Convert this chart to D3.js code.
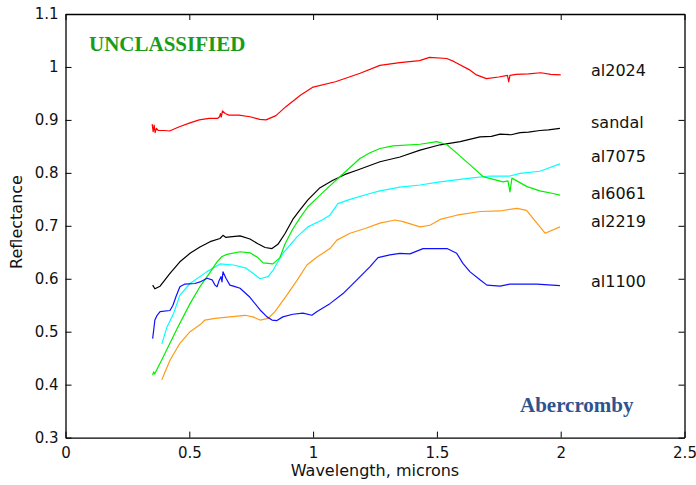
<!DOCTYPE html>
<html>
<head>
<meta charset="utf-8">
<script src="https://cdn.jsdelivr.net/npm/d3@7"></script>
<style>
  body { margin: 0; background: #fff; }
  svg { display: block; font-family: "DejaVu Sans", sans-serif; }
</style>
</head>
<body>
<div id="grafico"></div>
<script>
// dados: [comprimento de onda (microns), reflectância]
const al2024 = [[0.35,0.892],[0.354,0.878],[0.358,0.89],[0.362,0.876],[0.367,0.884],[0.375,0.88],[0.40,0.880],[0.42,0.879],[0.46,0.887],
  [0.50,0.894],[0.54,0.900],[0.58,0.903],[0.615,0.903],[0.622,0.906],[0.626,0.912],[0.629,0.905],[0.634,0.917],[0.645,0.912],[0.66,0.909],
  [0.70,0.909],[0.745,0.906],[0.785,0.901],[0.81,0.900],[0.85,0.908],[0.89,0.925],[0.95,0.947],[1.0,0.962],[1.09,0.972],[1.19,0.988],
  [1.27,1.003],[1.35,1.008],[1.43,1.012],[1.47,1.018],[1.54,1.016],[1.57,1.010],[1.63,0.995],[1.66,0.985],[1.70,0.978],[1.75,0.981],
  [1.785,0.984],[1.79,0.972],[1.795,0.984],[1.82,0.986],[1.87,0.987],[1.92,0.989],[1.96,0.986],[2.0,0.985]];

const sandal = [[0.352,0.588],[0.361,0.581],[0.382,0.586],[0.422,0.61],[0.462,0.632],[0.503,0.648],[0.543,0.66],[0.584,0.67],
  [0.624,0.676],[0.636,0.682],[0.648,0.678],[0.664,0.679],[0.705,0.681],[0.745,0.675],[0.777,0.666],[0.806,0.659],[0.834,0.657],
  [0.858,0.665],[0.886,0.685],[0.918,0.712],[0.947,0.73],[0.979,0.749],[1.028,0.772],[1.08,0.786],[1.129,0.797],[1.177,0.805],
  [1.27,0.821],[1.351,0.83],[1.432,0.843],[1.513,0.853],[1.594,0.859],[1.674,0.868],[1.72,0.869],[1.755,0.873],[1.80,0.872],
  [1.836,0.876],[1.87,0.877],[1.916,0.88],[1.95,0.881],[1.997,0.884]];

const al7075 = [[0.389,0.477],[0.41,0.509],[0.437,0.535],[0.462,0.569],[0.503,0.591],[0.57,0.613],[0.624,0.628],[0.678,0.626],
  [0.73,0.62],[0.786,0.6],[0.818,0.604],[0.838,0.616],[0.878,0.648],[0.935,0.679],[0.979,0.698],[1.036,0.711],[1.068,0.72],
  [1.1,0.742],[1.149,0.75],[1.23,0.761],[1.27,0.766],[1.351,0.773],[1.432,0.777],[1.513,0.783],[1.634,0.79],[1.714,0.794],
  [1.795,0.794],[1.836,0.799],[1.916,0.803],[1.997,0.817]];

const al6061 = [[0.352,0.418],[0.356,0.424],[0.36,0.42],[0.392,0.45],[0.45,0.505],[0.503,0.553],[0.543,0.585],[0.584,0.612],
  [0.612,0.632],[0.632,0.642],[0.652,0.646],[0.705,0.651],[0.745,0.649],[0.777,0.64],[0.798,0.63],[0.838,0.628],[0.866,0.64],
  [0.886,0.665],[0.918,0.694],[0.947,0.715],[0.979,0.736],[1.008,0.749],[1.06,0.772],[1.109,0.793],[1.137,0.805],[1.189,0.827],
  [1.23,0.838],[1.27,0.846],[1.323,0.851],[1.432,0.854],[1.5,0.859],[1.541,0.853],[1.573,0.84],[1.634,0.815],[1.686,0.793],
  [1.767,0.783],[1.787,0.785],[1.795,0.764],[1.803,0.79],[1.864,0.774],[1.916,0.766],[1.969,0.761],[1.997,0.758]];

const al2219 = [[0.389,0.409],[0.402,0.424],[0.422,0.446],[0.442,0.462],[0.462,0.478],[0.503,0.50],[0.543,0.513],[0.563,0.522],
  [0.604,0.525],[0.664,0.528],[0.725,0.531],[0.757,0.528],[0.786,0.522],[0.818,0.525],[0.846,0.538],[0.894,0.569],[0.935,0.597],
  [0.975,0.626],[1.016,0.641],[1.068,0.657],[1.096,0.673],[1.149,0.686],[1.21,0.695],[1.27,0.705],[1.331,0.711],[1.363,0.708],
  [1.432,0.698],[1.472,0.701],[1.513,0.712],[1.58,0.72],[1.674,0.727],[1.755,0.728],[1.823,0.733],[1.862,0.729],[1.937,0.686],
  [1.997,0.698]];

const al1100 = [[0.352,0.487],[0.361,0.522],[0.37,0.531],[0.382,0.538],[0.422,0.54],[0.434,0.55],[0.446,0.566],[0.462,0.585],
  [0.482,0.59],[0.523,0.591],[0.543,0.594],[0.572,0.601],[0.592,0.598],[0.604,0.588],[0.612,0.585],[0.62,0.596],[0.628,0.604],
  [0.632,0.594],[0.636,0.613],[0.648,0.601],[0.664,0.588],[0.685,0.585],[0.705,0.582],[0.745,0.565],[0.786,0.541],[0.814,0.528],
  [0.834,0.522],[0.854,0.521],[0.878,0.528],[0.918,0.533],[0.959,0.535],[0.995,0.531],[1.016,0.538],[1.068,0.553],[1.121,0.572],
  [1.177,0.598],[1.23,0.623],[1.262,0.64],[1.31,0.645],[1.351,0.648],[1.391,0.647],[1.444,0.657],[1.541,0.657],[1.58,0.648],
  [1.605,0.629],[1.634,0.613],[1.674,0.598],[1.702,0.588],[1.755,0.586],[1.795,0.59],[1.904,0.59],[1.997,0.587]];

const nomes = ["al2024", "sandal", "al7075", "al6061", "al2219", "al1100"];
const cores = ["#ff0000", "#000000", "#00ffff", "#00ee00", "#ff9a1a", "#1010ff"];
const series = [al2024, sandal, al7075, al6061, al2219, al1100];
const ticks_x = [0, 0.5, 1, 1.5, 2, 2.5];
const ticks_y = [0.3, 0.4, 0.5, 0.6, 0.7, 0.8, 0.9, 1.0, 1.1];

// MEDIDAS
const largura = 696, altura = 485;
const margem = {superior: 14, inferior: 47.4, direita: 11.5, esquerda: 65.5};

const escala_x = d3.scaleLinear([0, 2.5], [margem.esquerda, largura - margem.direita]);
const escala_y = d3.scaleLinear([0.3, 1.1], [altura - margem.inferior, margem.superior]);
const fmt = d => String(+d.toFixed(2));

const svg = d3.select("#grafico").append("svg")
    .attr("width", largura)
    .attr("height", altura)
    .attr("viewBox", [0, 0, largura, altura]);

// rótulo de cada linha fica à direita, y de base
const base_rotulo = [75.5, 128.3, 162, 199, 227, 286.7];

// LINHAS
const linha = d3.line().x(d => escala_x(d[0])).y(d => escala_y(d[1]));
svg.append("g")
    .attr("fill", "none")
    .attr("stroke-width", 1.2)
    .attr("stroke-linejoin", "round")
  .selectAll("path")
  .data(series)
  .join("path")
    .attr("stroke", (d, i) => cores[i])
    .attr("d", linha);

// EIXOS (ticks para dentro nos 4 lados)
svg.append("g")
    .attr("transform", `translate(0,${altura - margem.inferior})`)
    .call(d3.axisBottom(escala_x).tickValues(ticks_x).tickFormat(fmt).tickSizeInner(-6).tickSizeOuter(0).tickPadding(10));
svg.append("g")
    .attr("transform", `translate(0,${margem.superior})`)
    .call(d3.axisTop(escala_x).tickValues(ticks_x).tickFormat("").tickSizeInner(-6).tickSizeOuter(0));
svg.append("g")
    .attr("transform", `translate(${margem.esquerda},0)`)
    .call(d3.axisLeft(escala_y).tickValues(ticks_y).tickFormat(fmt).tickSizeInner(-6).tickSizeOuter(0).tickPadding(7));
svg.append("g")
    .attr("transform", `translate(${largura - margem.direita},0)`)
    .call(d3.axisRight(escala_y).tickValues(ticks_y).tickFormat("").tickSizeInner(-6).tickSizeOuter(0));

svg.selectAll(".tick text")
    .attr("font-family", "DejaVu Sans, sans-serif")
    .attr("font-size", 15)
    .attr("fill", "#111");
svg.selectAll(".domain").attr("stroke-width", 1.3);

// ROTULOS DAS SERIES
svg.append("g")
    .attr("font-size", 16)
    .attr("fill", "#111")
  .selectAll("text")
  .data(nomes)
  .join("text")
    .attr("x", 591)
    .attr("y", (d, i) => base_rotulo[i])
    .text(d => d);

// TITULOS DOS EIXOS
svg.append("text")
    .attr("x", (margem.esquerda + largura - margem.direita) / 2)
    .attr("y", 476)
    .attr("text-anchor", "middle")
    .attr("font-size", 16)
    .attr("fill", "#111")
    .text("Wavelength, microns");
svg.append("text")
    .attr("transform", "translate(22,222) rotate(-90)")
    .attr("text-anchor", "middle")
    .attr("font-size", 16)
    .attr("fill", "#111")
    .text("Reflectance");

// ANOTACOES
svg.append("text")
    .attr("x", 89)
    .attr("y", 50.5)
    .attr("font-family", "Liberation Serif, serif")
    .attr("font-weight", "bold")
    .attr("font-size", 21)
    .attr("fill", "#1a9c1a")
    .text("UNCLASSIFIED");
svg.append("text")
    .attr("x", 520)
    .attr("y", 411.5)
    .attr("font-family", "Liberation Serif, serif")
    .attr("font-weight", "bold")
    .attr("font-size", 21)
    .attr("fill", "#2e5490")
    .text("Abercromby");
</script>
</body>
</html>
